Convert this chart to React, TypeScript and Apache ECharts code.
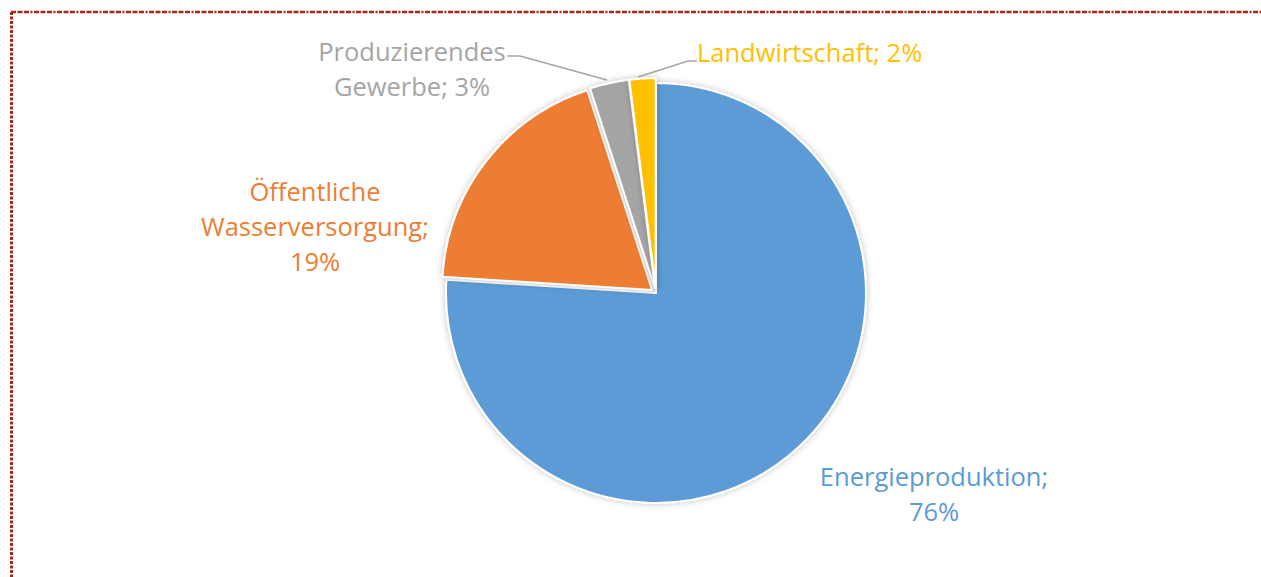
import React, { useEffect, useRef } from "react";
import * as echarts from "echarts";

const categories = ["Energieproduktion", "Öffentliche Wasserversorgung", "Produzierendes Gewerbe", "Landwirtschaft"];
const values = [76, 19, 3, 2];
const colors = ["#5B9BD5", "#ED7D31", "#A5A5A5", "#FFC000"];
const exploded = [false, true, true, true];
const labelLines = [
  ["Energieproduktion;", "76%"],
  ["Öffentliche", "Wasserversorgung;", "19%"],
  ["Produzierendes", "Gewerbe; 3%"],
  ["Landwirtschaft; 2%"],
];

export default function App() {
  const ref = useRef<HTMLDivElement>(null);
  useEffect(() => {
    const chart = echarts.init(ref.current!, null, { renderer: "svg" });
    const labelPos: any[] = [
      { x: 934, y: 493, align: "center" },
      { x: 315, y: 226, align: "center" },
      { x: 412, y: 68, align: "center" },
      { x: 697, y: 52, align: "left" },
    ];
    const leaderLines: any[] = [
      null,
      null,
      [[507, 56], [520, 56], [607, 80]],
      [[638, 77], [688, 61], [697, 61]],
    ];
    const font = "Open Sans";
    const graphics: any[] = [
      { type: "line", shape: { x1: 11, y1: 12, x2: 1261, y2: 12 }, style: { stroke: "#A52A1A", lineWidth: 2.5, lineDash: [5, 1.5, 5, 1.5, 5, 1.5, 2, 1.5] } },
      { type: "line", shape: { x1: 11.5, y1: 12, x2: 11.5, y2: 577 }, style: { stroke: "#A52A1A", lineWidth: 3, lineDash: [3, 1.5] } },
    ];
    categories.forEach((c, i) => {
      const text = labelLines[i].join("\n");
      graphics.push({
        type: "text",
        x: labelPos[i].x,
        y: labelPos[i].y,
        z: 10,
        style: {
          text,
          fill: colors[i],
          fontFamily: font,
          fontSize: 25.5,
          lineHeight: 35,
          align: labelPos[i].align,
          verticalAlign: "middle",
        },
      });
      if (leaderLines[i]) {
        graphics.push({
          type: "polyline",
          z: 10,
          shape: { points: leaderLines[i] },
          style: { stroke: "#A5A5A5", lineWidth: 1.5, fill: null },
        });
      }
    });
    chart.setOption({
      animation: false,
      backgroundColor: "#ffffff",
      graphic: graphics,
      series: [
        {
          type: "pie",
          center: [656, 293],
          radius: 210,
          startAngle: 90,
          clockwise: true,
          selectedMode: "multiple",
          selectedOffset: 5,
          emphasis: { disabled: true },
          itemStyle: { borderColor: "#ffffff", borderWidth: 2, shadowBlur: 6, shadowColor: "rgba(0,0,0,0.25)" },
          label: { show: false },
          labelLine: { show: false },
          data: categories.map((c, i) => ({
            name: c,
            value: values[i],
            selected: exploded[i],
            itemStyle: { color: colors[i] },
          })),
        },
      ],
    });
    return () => chart.dispose();
  }, []);
  return <div ref={ref} style={{ position: "fixed", left: 0, top: 0, width: 1261, height: 577 }} />;
}
